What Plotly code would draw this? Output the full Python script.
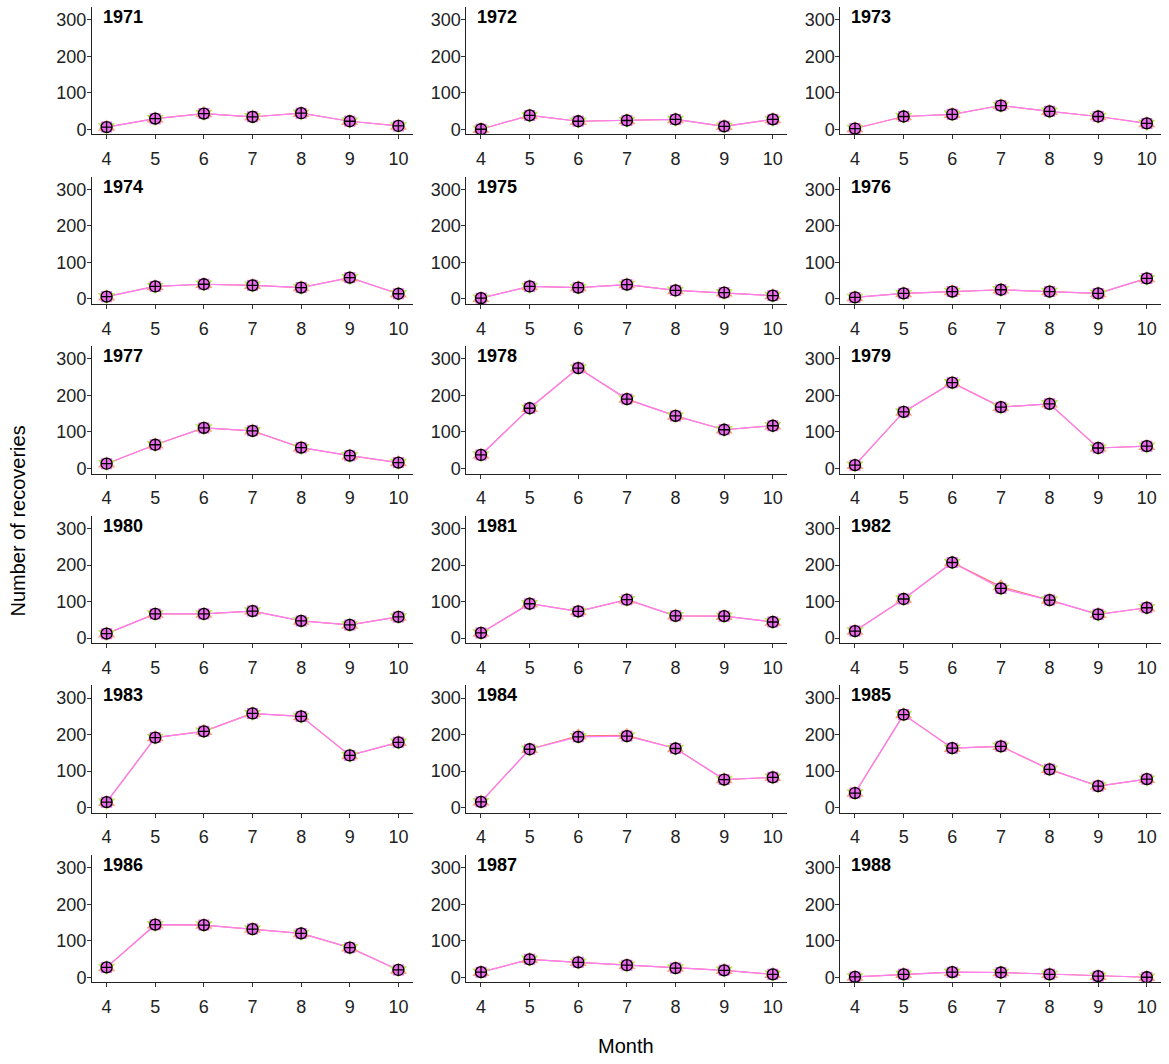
import plotly.graph_objects as go

# Months on the x axis and panel years
months = [4, 5, 6, 7, 8, 9, 10]
years = list(range(1971, 1989))

# Number of recoveries per month (April..October), one list per year
rec_1971 = [6, 29, 43, 34, 44, 22, 9]
rec_1972 = [0, 38, 22, 24, 27, 8, 27]
rec_1973 = [2, 35, 41, 65, 49, 35, 16]
rec_1974 = [6, 34, 40, 37, 31, 58, 14]
rec_1975 = [2, 34, 31, 39, 23, 17, 9]
rec_1976 = [4, 15, 20, 25, 20, 15, 56]
rec_1977 = [13, 65, 111, 103, 57, 35, 16]
rec_1978 = [37, 165, 275, 190, 144, 106, 117]
rec_1979 = [9, 155, 235, 168, 177, 56, 61]
rec_1980 = [12, 66, 66, 74, 47, 36, 58]
rec_1981 = [14, 94, 73, 105, 61, 60, 44]
rec_1982 = [19, 107, 207, 136, 104, 65, 83]
rec_1983 = [15, 192, 209, 258, 250, 143, 179]
rec_1984 = [16, 160, 194, 196, 162, 77, 83]
rec_1985 = [40, 255, 163, 168, 105, 59, 78]
rec_1986 = [27, 144, 143, 132, 120, 81, 20]
rec_1987 = [14, 49, 41, 33, 25, 19, 8]
rec_1988 = [1, 8, 14, 13, 8, 3, 0]

# Second fitted series: identical except where it departs slightly
alt_1982 = [19, 107, 207, 141, 104, 65, 83]
alt_1984 = [16, 160, 197, 198, 162, 77, 83]

y_ticks = [0, 100, 200, 300]

recoveries = {
    1971: rec_1971, 1972: rec_1972, 1973: rec_1973,
    1974: rec_1974, 1975: rec_1975, 1976: rec_1976,
    1977: rec_1977, 1978: rec_1978, 1979: rec_1979,
    1980: rec_1980, 1981: rec_1981, 1982: rec_1982,
    1983: rec_1983, 1984: rec_1984, 1985: rec_1985,
    1986: rec_1986, 1987: rec_1987, 1988: rec_1988,
}
alt_fit = {1982: alt_1982, 1984: alt_1984}

W, H = 1169, 1064
col_left = [92, 466.4, 840.4]
panel_w = 321
row_top0 = 7
row_pitch = 170.4
panel_h = 128

FONT = "Liberation Sans, Arial, sans-serif"
TXT = "#222222"

fig = go.Figure()
layout = dict(
    width=W, height=H,
    margin=dict(l=0, r=0, t=0, b=0),
    paper_bgcolor="white", plot_bgcolor="white",
    showlegend=False,
    font=dict(family=FONT, color=TXT),
    annotations=[],
)

for i, yr in enumerate(years):
    r, c = divmod(i, 3)
    k = i + 1
    xa = "x" if k == 1 else f"x{k}"
    ya = "y" if k == 1 else f"y{k}"
    left = col_left[c]
    top = row_top0 + row_pitch * r
    bottom = top + panel_h

    axis_common = dict(
        showline=True, linecolor="#222222", linewidth=1,
        ticks="outside", ticklen=4, tickcolor="#333333", tickwidth=1,
        showgrid=False, zeroline=False,
        tickfont=dict(size=18, family=FONT, color=TXT),
        fixedrange=True,
    )
    layout["xaxis" if k == 1 else f"xaxis{k}"] = dict(
        axis_common,
        domain=[left / W, (left + panel_w) / W],
        range=[3.7, 10.3], tickvals=months,
        ticklabelstandoff=4,
        anchor=ya,
    )
    layout["yaxis" if k == 1 else f"yaxis{k}"] = dict(
        axis_common,
        domain=[1 - bottom / H, 1 - top / H],
        range=[-14, 335], tickvals=y_ticks,
        ticklabelstandoff=-3,
        anchor=xa,
    )

    vals = recoveries[yr]
    alt = alt_fit.get(yr, vals)

    # fitted lines
    fig.add_trace(go.Scatter(x=months, y=alt, mode="lines", xaxis=xa, yaxis=ya,
                             line=dict(color="#F8766D", width=1.2), hoverinfo="skip"))
    fig.add_trace(go.Scatter(x=months, y=vals, mode="lines", xaxis=xa, yaxis=ya,
                             line=dict(color="#FF7DF5", width=1.2), hoverinfo="skip"))
    # fitted points
    fig.add_trace(go.Scatter(x=months, y=alt, mode="markers", xaxis=xa, yaxis=ya,
                             marker=dict(symbol="triangle-up", size=15, color="#F8A07A"),
                             hoverinfo="skip"))
    fig.add_trace(go.Scatter(x=months, y=vals, mode="markers", xaxis=xa, yaxis=ya,
                             marker=dict(symbol="triangle-down", size=15, color="#B5E550"),
                             hoverinfo="skip"))
    fig.add_trace(go.Scatter(x=months, y=vals, mode="markers", xaxis=xa, yaxis=ya,
                             marker=dict(symbol="square", size=11, color="#EE6AEE"),
                             hoverinfo="skip"))
    # observed recoveries
    fig.add_trace(go.Scatter(x=months, y=vals, mode="markers", xaxis=xa, yaxis=ya,
                             marker=dict(symbol="circle-cross-open", size=11,
                                         color="black", line=dict(width=1.3, color="black")),
                             name=str(yr)))

    layout["annotations"].append(dict(
        text=f"<b>{yr}</b>", xref="paper", yref="paper",
        x=(left + 9) / W, y=1 - (top + 10) / H,
        xanchor="left", yanchor="middle", showarrow=False,
        font=dict(size=18, family=FONT, color="black"),
    ))

layout["annotations"].append(dict(
    text="Number of recoveries", xref="paper", yref="paper",
    x=18 / W, y=1 - 524 / H, textangle=-90,
    xanchor="center", yanchor="middle", showarrow=False,
    font=dict(size=20, family=FONT, color="black"),
))
layout["annotations"].append(dict(
    text="Month", xref="paper", yref="paper",
    x=626 / W, y=1 - 1051 / H,
    xanchor="center", yanchor="middle", showarrow=False,
    font=dict(size=20, family=FONT, color="black"),
))

fig.update_layout(**layout)
fig.write_html("out.html")
